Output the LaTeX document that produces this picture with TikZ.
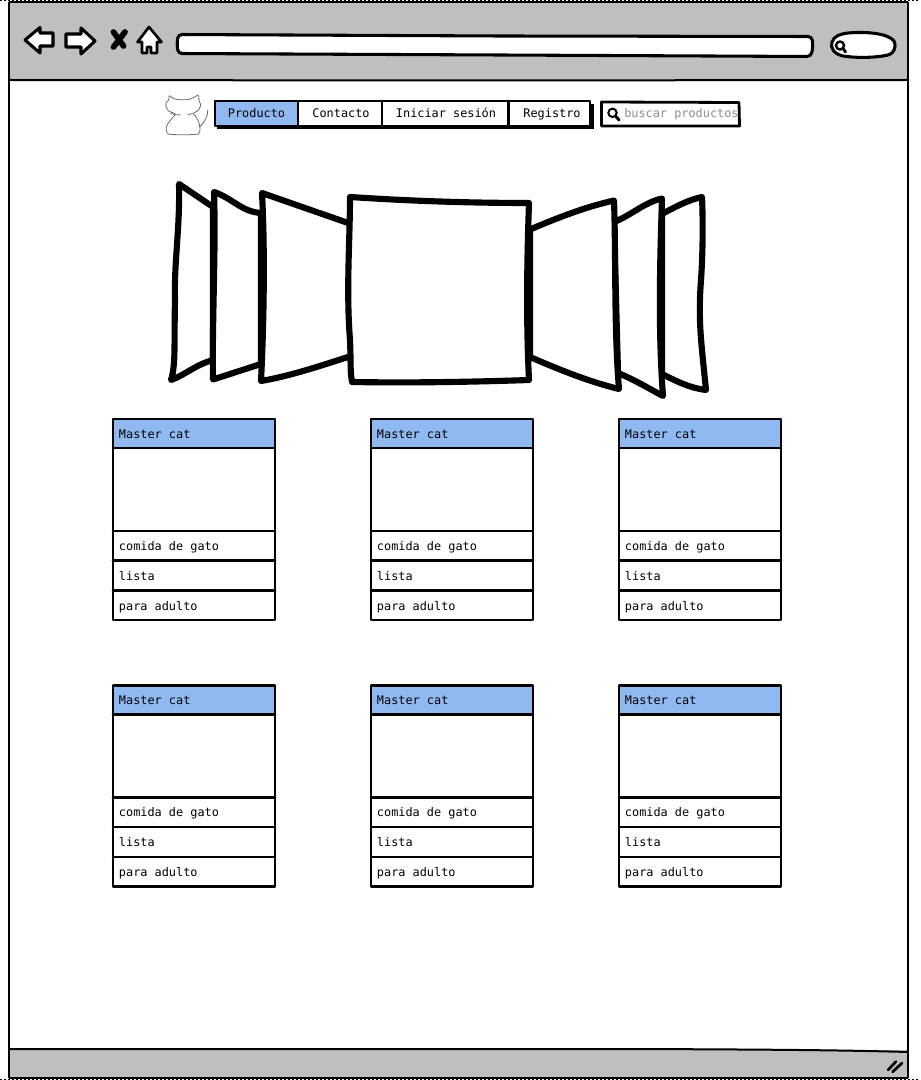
\documentclass[tikz,border=0pt]{standalone}
\usepackage{fontspec}
\setmonofont{DejaVu Sans Mono}
\definecolor{chrome}{HTML}{BFBFBF}
\definecolor{sel}{HTML}{90B9F1}
\definecolor{hint}{HTML}{8A8C98}
\tikzset{
  ink/.style={draw=black,line width=1.9pt,line join=round,line cap=round},
  thick ink/.style={draw=black,line width=4.6pt,line join=round,line cap=round,fill=white},
  icon/.style={draw=black,line width=2.3pt,line join=round,fill=white},
  label/.style={font=\ttfamily\fontsize{8.9}{11}\selectfont,text=black,inner sep=0pt,anchor=base west},
  navlabel/.style={font=\ttfamily\fontsize{8.9}{11}\selectfont,text=black,inner sep=0pt,anchor=base},
}
\begin{document}
\begin{tikzpicture}[x=0.75pt,y=-0.75pt]
\useasboundingbox (0,0) rectangle (920,1080);
\fill[white] (0,0) rectangle (920,1080);
% page edge
\draw[black,line width=0.6pt,dash pattern=on 1.5pt off 1.5pt] (0,0.5) -- (920,0.5);
\draw[black,line width=0.6pt,dash pattern=on 1.5pt off 1.5pt] (0,1079.5) -- (920,1079.5);
% window
\fill[chrome] (9,2) rectangle (908,80);
\fill[chrome] (9,1050) rectangle (908,1078);
\draw[black,line width=1.5pt] (9,80) -- (450,80.5) -- (908,80);
\draw[black,line width=1.5pt] (9,1049) -- (640,1049) .. controls (760,1049.5) and (840,1050) .. (908,1052);
\draw[black,line width=1.3pt] (9,2) -- (908,2);
\draw[black,line width=1.6pt] (9,1078) -- (908,1078);
\draw[black,line width=2pt] (9,2) -- (9,1078) (908,2) -- (908,1078);
% browser icons
\draw[icon] (25,40) -- (40,27.5) -- (40,33) -- (53,33) -- (53,46) -- (40,46) -- (40,53) -- cycle;
\draw[icon] (95,41) -- (81,28) -- (81,34) -- (66,34) -- (66,47) -- (81,47) -- (81,54) -- cycle;
\draw[black,line width=4.3pt,line cap=round] (113.5,32) -- (123.5,46) (125,32) -- (113.5,47);
\draw[icon,line width=2pt] (149,27) -- (161.5,42) -- (157,42) -- (157,53) -- (151,53) -- (151,47) -- (147,47) -- (147,53) -- (142,53) -- (142,42) -- (137.5,42) -- cycle;
% address bar
\draw[icon,rounded corners=3pt] (178,34.5) -- (500,36) -- (812,36.5) -- (813,46) -- (811,56.5) -- (500,55) -- (178,53.5) -- (177,44) -- cycle;
\draw[icon] (848,33) .. controls (865,31.5) and (888,33) .. (894,41) .. controls (897,48) and (893,54) .. (888,55) .. controls (875,58) and (855,58) .. (843,56) .. controls (834,54) and (830,48) .. (832,42) .. controls (834,36) and (840,34) .. (848,33) -- cycle;
\draw[black,line width=1.8pt] (840,45.5) circle (4);
\draw[black,line width=2.2pt,line cap=round] (843,48.5) -- (845.5,52);
% logo cat
\draw[gray!85!black,line width=0.6pt,line join=round,rounded corners=1pt]
  (168.7,95) -- (174,99) .. controls (180,100) and (185,100) .. (190.7,99) -- (198.7,94.7) -- (199,101.7)
  .. controls (201,104) and (201,108) .. (197.7,111) -- (192.7,113.3)
  .. controls (197,117) and (200,124) .. (200,130) -- (199.3,134)
  .. controls (190,135) and (176,135) .. (167.3,134) -- (166,128.3)
  .. controls (167,124) and (172,118) .. (176,114) -- (170,111.7)
  .. controls (167,110) and (165,105) .. (166.7,101.7) -- (169.3,100) -- cycle;
\draw[gray!85!black,line width=0.6pt] (200,127) .. controls (203,123) and (208,118) .. (207.7,110);
\draw[gray!85!black,line width=0.6pt] (170.5,113) .. controls (175,115) and (178,115) .. (181,115);
\draw[gray!85!black,line width=0.6pt] (188,115) .. controls (190,115) and (191,114) .. (192.7,113.3);
% nav bar
\fill[black] (217,104) rectangle (593.5,129);
\fill[white] (215,101) rectangle (590,126);
\fill[sel] (215,101) rectangle (298,126);
\draw[ink] (215,101) rectangle (590,126);
\draw[ink] (298,101) -- (298,126) (382,101) -- (382,126) (508.5,101) -- (508.5,126);
\node[navlabel] (nProducto) at (256.5,118) {Producto};
\node[navlabel] (nContacto) at (341,118) {Contacto};
\node[navlabel] (nIniciar) at (446,118) {Iniciar sesión};
\node[navlabel] (nRegistro) at (552,118) {Registro};
% search box
\draw[ink,line width=2.1pt,fill=white] (601.5,102) -- (739,102.5) -- (739.5,126) -- (601.5,126) -- cycle;
\draw[black,line width=1.5pt] (612.5,112.8) circle (4.2);
\draw[black,line width=2.2pt,line cap=round] (615.8,116.3) -- (619,120);
\node[label,text=hint] (nSearch) at (624,118) {buscar productos};
% carousel, outer pieces first
\draw[thick ink] (179,184) -- (213,207) -- (213,360) .. controls (195,365) and (185,375) .. (171,380)
  .. controls (176,365) and (174,340) .. (175,300) .. controls (174,260) and (180,230) .. (179,184) -- cycle;
\draw[thick ink] (214,192) .. controls (232,198) and (242,212) .. (261,213) -- (261,364) -- (213,379.5)
  .. controls (212,320) and (216,250) .. (214,192) -- cycle;
\draw[thick ink] (262,193) -- (351,224) -- (351,356) .. controls (320,366) and (290,376) .. (261,381)
  .. controls (264,320) and (265,250) .. (262,193) -- cycle;
\draw[thick ink] (702,197) .. controls (688,200) and (675,207) .. (662,214) -- (662,374) .. controls (678,382) and (690,388) .. (706,390)
  .. controls (701,340) and (698,320) .. (701,280) .. controls (703,250) and (703,220) .. (702,197) -- cycle;
\draw[thick ink] (662,198.5) .. controls (645,202) and (630,216) .. (614,222) -- (618,373) .. controls (635,380) and (648,388) .. (663,396)
  .. controls (658,330) and (660,260) .. (662,198.5) -- cycle;
\draw[thick ink] (614,200.5) .. controls (585,207) and (557,218) .. (530,229.5) -- (530,357) .. controls (560,370) and (590,382) .. (619,389)
  .. controls (614,330) and (616,260) .. (614,200.5) -- cycle;
\draw[thick ink] (350,197) .. controls (410,201) and (470,203) .. (529,203) .. controls (527,260) and (526,320) .. (529,380)
  .. controls (470,382) and (410,383) .. (352,382) .. controls (350,370) and (351,365) .. (350,340)
  .. controls (346,290) and (350,240) .. (350,197) -- cycle;
% product cards
\foreach \cx/\cid in {113/a,371/b,619/c} {
  \foreach \cy/\rid in {419/p,685.4/q} {
    \pgfmathsetmacro{\xr}{\cx+162}
    \pgfmathsetmacro{\tx}{\cx+5.7}
    \fill[white] (\cx,\cy) rectangle (\xr,\cy+201);
    \fill[sel] (\cx,\cy) rectangle (\xr,\cy+29);
    \draw[ink] (\cx,\cy) rectangle (\xr,\cy+201);
    \draw[ink] (\cx,\cy+29) -- (\xr,\cy+29);
    \draw[ink] (\cx,\cy+112) -- (\xr,\cy+112);
    \draw[ink] (\cx,\cy+141.5) -- (\xr,\cy+141.5);
    \draw[ink] (\cx,\cy+171.5) -- (\xr,\cy+171.5);
    \node[label] (m\cid\rid) at (\tx,\cy+19) {Master cat};
    \node[label] (g\cid\rid) at (\tx,\cy+131.3) {comida de gato};
    \node[label] (l\cid\rid) at (\tx,\cy+161.3) {lista};
    \node[label] (u\cid\rid) at (\tx,\cy+191.3) {para adulto};
  }
}
% resize grip
\draw[black,line width=2pt,line cap=round] (888,1070) -- (896,1061.5) (892.5,1072) -- (902,1063);
\end{tikzpicture}
\end{document}
